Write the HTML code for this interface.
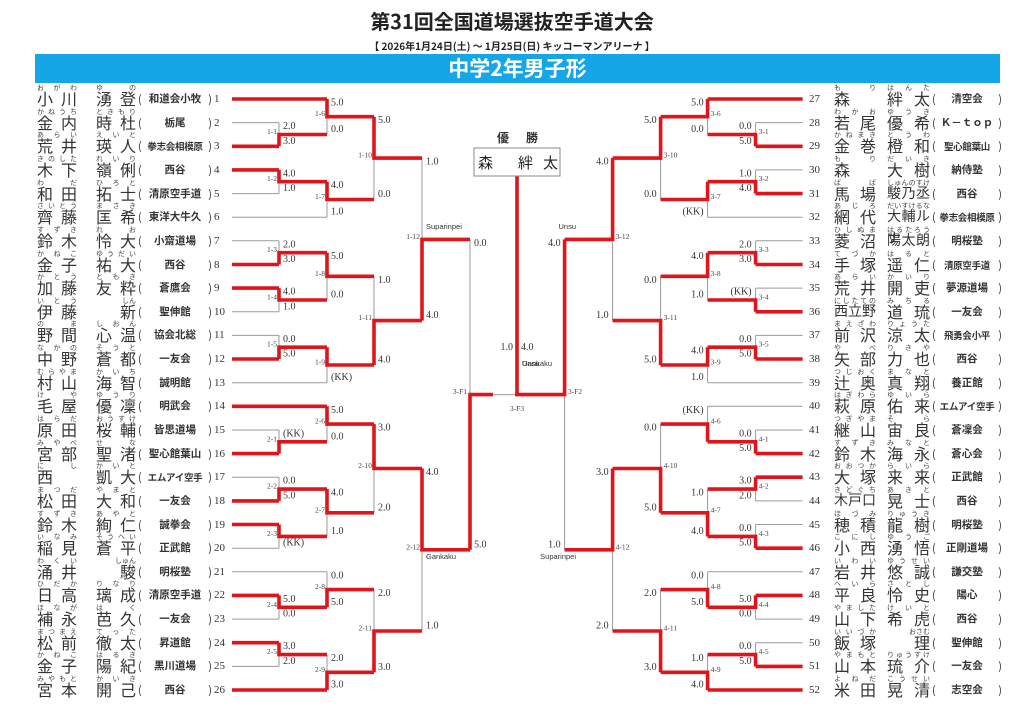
<!DOCTYPE html>
<html><head><meta charset="utf-8"><style>
*{margin:0;padding:0}
body{width:1024px;height:724px;background:#fff;position:relative;overflow:hidden;font-family:"Liberation Sans","Noto Sans CJK JP",sans-serif;color:#222}
.t1{position:absolute;left:0;width:1024px;top:8px;text-align:center;font-size:20px;font-weight:bold;line-height:26px;font-family:"Noto Sans CJK JP",sans-serif}
.t2{position:absolute;left:0;width:1024px;top:39px;text-align:center;font-size:10px;font-weight:bold;line-height:13px;font-family:"Noto Sans CJK JP",sans-serif}
.bar{position:absolute;left:35px;top:54px;width:965px;height:29px;background:#14a6e6;color:#fff;text-align:center;font-size:21px;font-weight:bold;line-height:29px;font-family:"Noto Sans CJK JP",sans-serif}
.row{position:absolute;left:0;width:1024px;height:0}
.fa,.gi{position:absolute;top:-12px;font-size:16px;line-height:22px;height:22px;text-align:justify;text-align-last:justify;color:#333;font-family:"Noto Sans CJK JP",sans-serif}
.ff,.gf{position:absolute;top:-15px;font-size:7px;line-height:8px;text-align:justify;text-align-last:justify;color:#444;font-family:"Noto Sans CJK JP",sans-serif}
.e{text-align-last:right}
.sm{font-size:14px}
.af{position:absolute;top:-8px;display:flex;justify-content:space-between;font-size:11px;line-height:16px;color:#333;font-family:"Noto Sans CJK JP",sans-serif;white-space:nowrap}
.af em{font-style:normal;flex:1;text-align:center;font-weight:bold;font-size:10.5px;white-space:nowrap}
.af em.c{font-size:9.5px;letter-spacing:-0.3px}
.no{position:absolute;top:-7px;font-size:11px;line-height:14px;font-family:"Liberation Serif",serif;color:#333}
.L .ff,.L .fa{left:37px;width:40px}
.L .gf,.L .gi{left:96px;width:40px}
.L .af{left:138px;width:74px}
.L .no{left:214px}
.R .ff,.R .fa{left:834px;width:42px}
.R .gf,.R .gi{left:887px;width:43px}
.R .af{left:932px;width:70px}
.R .no{left:809px}
svg{position:absolute;left:0;top:0}
.s{font-family:"Liberation Serif","DejaVu Serif",serif;font-size:10px;fill:#333}
.m{font-family:"Liberation Serif","DejaVu Serif",serif;font-size:7.5px;fill:#444}
.k{font-family:"Liberation Sans",sans-serif;font-size:7.5px;fill:#333}
.r .s{text-anchor:end}
</style></head><body>
<div class="t1">第31回全国道場選抜空手道大会</div>
<div class="t2">【 2026年1月24日(土) ～ 1月25日(日)  キッコーマンアリーナ 】</div>
<div class="bar">中学2年男子形</div>

<svg width="1024" height="724" viewBox="0 0 1024 724">
<g fill="none" stroke-linejoin="miter">
<path stroke="#9a9a9a" stroke-width="1" d="M232 122.6H279M232 193.6H279M232 217.2H327M232 240.8H279M232 311.8H279M232 335.4H279M232 382.7H327
M279 122.6V134.5M279 181.7V193.6M279 240.8V252.7M279 300V311.8M279 335.4V347.2M327 116.7V134.5M327 199.5V217.2M327 276.3V300M327 365V382.7M374 158.1V199.5M374 276.3V320.6M422 158.1V239.4
M232 430H279M232 477.2H279M232 548.2H279M232 571.8H327M232 619.1H279M232 666.4H279
M279 430V441.8M279 477.2V489.1M279 536.4V548.2M279 607.3V619.1M279 654.6V666.4M327 424.1V441.8M327 512.8V536.4M327 571.8V589.6M327 654.6V672.3M374 468.5V512.8M374 589.6V631M422 549.8V631M470 239.4V394.6M493 394.6H517"/>
<path stroke="#e0141b" stroke-width="3.6" d="M232 99H327M232 146.3H279M232 169.9H279M232 264.5H279M232 288.1H279M232 359H279
M279 146.3V134.5H327M279 169.9V181.7H327M279 264.5V252.7H327M279 288.1V300H327M279 359V347.2H327M327 99V116.7H374M327 181.7V199.5H374M327 252.7V276.3H374M327 347.2V365H374M374 116.7V158.1H422M374 365V320.6H422M422 320.6V239.4H470
M232 406.3H327M232 453.6H279M232 500.9H279M232 524.5H279M232 595.4H279M232 642.7H279M232 690H327
M279 453.6V441.8H327M279 500.9V489.1H327M279 524.5V536.4H327M279 595.4V607.3H327M279 642.7V654.6H327M327 406.3V424.1H374M327 489.1V512.8H374M327 607.3V589.6H374M327 690V672.3H374M374 424.1V468.5H422M374 672.3V631H422M422 468.5V549.8H470M470 549.8V394.6H493
M517 396V176"/>
<g transform="translate(1034.6,0) scale(-1,1)">
<path stroke="#9a9a9a" stroke-width="1" d="M232 122.6H279M232 169.9H279M232 217.2H327M232 240.8H279M232 288.1H279M232 335.4H279M232 382.7H327
M279 122.6V134.5M279 169.9V181.7M279 240.8V252.7M279 288.1V300M279 335.4V347.2M327 116.7V134.5M327 199.5V217.2M327 276.3V300M327 365V382.7M374 158.1V199.5M374 276.3V320.6M422 239.4V320.6
M232 406.3H327M232 430H279M232 500.9H279M232 524.5H279M232 571.8H327M232 619.1H279M232 642.7H279
M279 430V441.8M279 489.1V500.9M279 524.5V536.4M279 607.3V619.1M279 642.7V654.6M327 406.3V424.1M327 489.1V512.8M327 571.8V589.6M327 654.6V672.3M374 424.1V468.5M374 589.6V631M422 549.8V631M470 394.6V549.8"/>
<path stroke="#e0141b" stroke-width="3.6" d="M232 99H327M232 146.3H279M232 193.6H279M232 264.5H279M232 311.8H279M232 359H279
M279 146.3V134.5H327M279 193.6V181.7H327M279 264.5V252.7H327M279 311.8V300H327M279 359V347.2H327M327 99V116.7H374M327 181.7V199.5H374M327 252.7V276.3H374M327 347.2V365H374M374 116.7V158.1H422M374 365V320.6H422M422 158.1V239.4H470
M232 453.6H279M232 477.2H279M232 548.2H279M232 595.4H279M232 666.4H279M232 690H327
M279 453.6V441.8H327M279 477.2V489.1H327M279 548.2V536.4H327M279 595.4V607.3H327M279 666.4V654.6H327M327 441.8V424.1H374M327 536.4V512.8H374M327 607.3V589.6H374M327 690V672.3H374M374 512.8V468.5H422M374 672.3V631H422M422 468.5V549.8H470M470 239.4V394.6H519.4"/>
</g>
</g>
<rect x="474" y="148" width="86" height="28" fill="#fff" stroke="#888" stroke-width="1"/>
<text x="478" y="168" font-size="15" fill="#222" font-family="Noto Sans CJK JP,sans-serif">森</text>
<text x="518" y="168" font-size="15" fill="#222" font-family="Noto Sans CJK JP,sans-serif">絆</text>
<text x="543" y="168" font-size="15" fill="#222" font-family="Noto Sans CJK JP,sans-serif">太</text>
<text x="497" y="142" font-size="12" font-weight="bold" fill="#333" font-family="Noto Sans CJK JP,sans-serif">優</text>
<text x="526" y="142" font-size="12" font-weight="bold" fill="#333" font-family="Noto Sans CJK JP,sans-serif">勝</text>

<g class="l">
<text class="s" x="283" y="129.1">2.0</text><text class="s" x="283" y="143.8">3.0</text><text class="m" x="277" y="134" text-anchor="end">1-1</text>
<text class="s" x="283" y="176.4">4.0</text><text class="s" x="283" y="191.1">1.0</text><text class="m" x="277" y="181.2" text-anchor="end">1-2</text>
<text class="s" x="283" y="247.3">2.0</text><text class="s" x="283" y="262">3.0</text><text class="m" x="277" y="252.2" text-anchor="end">1-3</text>
<text class="s" x="283" y="294.6">4.0</text><text class="s" x="283" y="309.3">1.0</text><text class="m" x="277" y="299.5" text-anchor="end">1-4</text>
<text class="s" x="283" y="341.9">0.0</text><text class="s" x="283" y="356.5">5.0</text><text class="m" x="277" y="346.7" text-anchor="end">1-5</text>
<text class="s" x="331" y="105.5">5.0</text><text class="s" x="331" y="132">0.0</text><text class="m" x="325" y="116.2" text-anchor="end">1-6</text>
<text class="s" x="331" y="188.2">4.0</text><text class="s" x="331" y="214.7">1.0</text><text class="m" x="325" y="199" text-anchor="end">1-7</text>
<text class="s" x="331" y="259.2">5.0</text><text class="s" x="331" y="297.5">0.0</text><text class="m" x="325" y="275.8" text-anchor="end">1-8</text>
<text class="s" x="331" y="380.2">(KK)</text><text class="m" x="325" y="364.5" text-anchor="end">1-9</text>
<text class="s" x="378" y="123.2">5.0</text><text class="s" x="378" y="197">0.0</text><text class="m" x="372" y="157.6" text-anchor="end">1-10</text>
<text class="s" x="378" y="282.8">1.0</text><text class="s" x="378" y="362.5">4.0</text><text class="m" x="372" y="320.1" text-anchor="end">1-11</text>
<text class="s" x="426" y="164.6">1.0</text><text class="s" x="426" y="318.1">4.0</text><text class="m" x="420" y="238.9" text-anchor="end">1-12</text>
<text class="s" x="283" y="436.5">(KK)</text><text class="m" x="277" y="441.3" text-anchor="end">2-1</text>
<text class="s" x="283" y="483.7">0.0</text><text class="s" x="283" y="498.4">5.0</text><text class="m" x="277" y="488.6" text-anchor="end">2-2</text>
<text class="s" x="283" y="545.7">(KK)</text><text class="m" x="277" y="535.9" text-anchor="end">2-3</text>
<text class="s" x="283" y="601.9">5.0</text><text class="s" x="283" y="616.6">0.0</text><text class="m" x="277" y="606.8" text-anchor="end">2-4</text>
<text class="s" x="283" y="649.2">3.0</text><text class="s" x="283" y="663.9">2.0</text><text class="m" x="277" y="654.1" text-anchor="end">2-5</text>
<text class="s" x="331" y="412.8">5.0</text><text class="s" x="331" y="439.3">0.0</text><text class="m" x="325" y="423.6" text-anchor="end">2-6</text>
<text class="s" x="331" y="495.6">4.0</text><text class="s" x="331" y="533.9">1.0</text><text class="m" x="325" y="512.3" text-anchor="end">2-7</text>
<text class="s" x="331" y="578.3">0.0</text><text class="s" x="331" y="604.8">5.0</text><text class="m" x="325" y="589.1" text-anchor="end">2-8</text>
<text class="s" x="331" y="661.1">2.0</text><text class="s" x="331" y="687.5">3.0</text><text class="m" x="325" y="671.8" text-anchor="end">2-9</text>
<text class="s" x="378" y="430.6">3.0</text><text class="s" x="378" y="510.3">2.0</text><text class="m" x="372" y="468" text-anchor="end">2-10</text>
<text class="s" x="378" y="596.1">2.0</text><text class="s" x="378" y="669.8">3.0</text><text class="m" x="372" y="630.5" text-anchor="end">2-11</text>
<text class="s" x="426" y="475">4.0</text><text class="s" x="426" y="628.5">1.0</text><text class="m" x="420" y="549.3" text-anchor="end">2-12</text>
<text class="s" x="474" y="245.9">0.0</text><text class="s" x="474" y="547.3">5.0</text><text class="m" x="467" y="394.1" text-anchor="end">3-F1</text>
<text class="k" x="426" y="229">Suparinpei</text>
<text class="k" x="426" y="559">Gankaku</text>
</g>

<g class="r">
<text class="s" x="751.6" y="129.1">0.0</text><text class="s" x="751.6" y="143.8">5.0</text><text class="m" x="758.6" y="134">3-1</text>
<text class="s" x="751.6" y="176.4">1.0</text><text class="s" x="751.6" y="191.1">4.0</text><text class="m" x="758.6" y="181.2">3-2</text>
<text class="s" x="751.6" y="247.3">2.0</text><text class="s" x="751.6" y="262">3.0</text><text class="m" x="758.6" y="252.2">3-3</text>
<text class="s" x="751.6" y="294.6">(KK)</text><text class="m" x="758.6" y="299.5">3-4</text>
<text class="s" x="751.6" y="341.9">0.0</text><text class="s" x="751.6" y="356.5">5.0</text><text class="m" x="758.6" y="346.7">3-5</text>
<text class="s" x="703.6" y="105.5">5.0</text><text class="s" x="703.6" y="132">0.0</text><text class="m" x="710.6" y="116.2">3-6</text>
<text class="s" x="703.6" y="214.7">(KK)</text><text class="m" x="710.6" y="199">3-7</text>
<text class="s" x="703.6" y="259.2">4.0</text><text class="s" x="703.6" y="297.5">1.0</text><text class="m" x="710.6" y="275.8">3-8</text>
<text class="s" x="703.6" y="353.7">4.0</text><text class="s" x="703.6" y="380.2">1.0</text><text class="m" x="710.6" y="364.5">3-9</text>
<text class="s" x="656.6" y="123.2">5.0</text><text class="s" x="656.6" y="197">0.0</text><text class="m" x="663.6" y="157.6">3-10</text>
<text class="s" x="656.6" y="282.8">0.0</text><text class="s" x="656.6" y="362.5">5.0</text><text class="m" x="663.6" y="320.1">3-11</text>
<text class="s" x="608.6" y="164.6">4.0</text><text class="s" x="608.6" y="318.1">1.0</text><text class="m" x="615.6" y="238.9">3-12</text>
<text class="s" x="751.6" y="436.5">0.0</text><text class="s" x="751.6" y="451.1">5.0</text><text class="m" x="758.6" y="441.3">4-1</text>
<text class="s" x="751.6" y="483.7">3.0</text><text class="s" x="751.6" y="498.4">2.0</text><text class="m" x="758.6" y="488.6">4-2</text>
<text class="s" x="751.6" y="531">0.0</text><text class="s" x="751.6" y="545.7">5.0</text><text class="m" x="758.6" y="535.9">4-3</text>
<text class="s" x="751.6" y="601.9">5.0</text><text class="s" x="751.6" y="616.6">0.0</text><text class="m" x="758.6" y="606.8">4-4</text>
<text class="s" x="751.6" y="649.2">0.0</text><text class="s" x="751.6" y="663.9">5.0</text><text class="m" x="758.6" y="654.1">4-5</text>
<text class="s" x="703.6" y="412.8">(KK)</text><text class="m" x="710.6" y="423.6">4-6</text>
<text class="s" x="703.6" y="495.6">1.0</text><text class="s" x="703.6" y="533.9">4.0</text><text class="m" x="710.6" y="512.3">4-7</text>
<text class="s" x="703.6" y="578.3">0.0</text><text class="s" x="703.6" y="604.8">5.0</text><text class="m" x="710.6" y="589.1">4-8</text>
<text class="s" x="703.6" y="661.1">1.0</text><text class="s" x="703.6" y="687.5">4.0</text><text class="m" x="710.6" y="671.8">4-9</text>
<text class="s" x="656.6" y="430.6">0.0</text><text class="s" x="656.6" y="510.3">5.0</text><text class="m" x="663.6" y="468">4-10</text>
<text class="s" x="656.6" y="596.1">2.0</text><text class="s" x="656.6" y="669.8">3.0</text><text class="m" x="663.6" y="630.5">4-11</text>
<text class="s" x="608.6" y="475">3.0</text><text class="s" x="608.6" y="628.5">2.0</text><text class="m" x="615.6" y="549.3">4-12</text>
<text class="s" x="560.6" y="245.9">4.0</text><text class="s" x="560.6" y="547.3">1.0</text><text class="m" x="568" y="394.1">3-F2</text>
<text class="k" x="576" y="229" text-anchor="end">Unsu</text>
<text class="k" x="576" y="559" text-anchor="end">Suparinpei</text>
</g>
<text class="s" x="513" y="350" text-anchor="end">1.0</text>
<text class="s" x="521" y="350">4.0</text>
<text class="k" x="522" y="366">Gankaku</text>
<text class="k" x="522" y="366">Unsu</text>
<text class="m" x="517" y="411" text-anchor="middle">3-F3</text>
</svg>

<!-- LEFT ROWS -->
<div class="row L" style="top:99px"><div class="ff">おがわ</div><div class="gf">ゆの</div><div class="fa">小川</div><div class="gi">湧登</div><div class="af">(<em>和道会小牧</em>)</div><div class="no">1</div></div>
<div class="row L" style="top:122.6px"><div class="ff">かねうち</div><div class="gf">ときもり</div><div class="fa">金内</div><div class="gi">時杜</div><div class="af">(<em>栃尾</em>)</div><div class="no">2</div></div>
<div class="row L" style="top:146.3px"><div class="ff">あらい</div><div class="gf">えいと</div><div class="fa">荒井</div><div class="gi">瑛人</div><div class="af">(<em class="c">拳志会相模原</em>)</div><div class="no">3</div></div>
<div class="row L" style="top:169.9px"><div class="ff">きのした</div><div class="gf">れいり</div><div class="fa">木下</div><div class="gi">嶺俐</div><div class="af">(<em>西谷</em>)</div><div class="no">4</div></div>
<div class="row L" style="top:193.6px"><div class="ff">わだ</div><div class="gf">ひろと</div><div class="fa">和田</div><div class="gi">拓士</div><div class="af">(<em>清原空手道</em>)</div><div class="no">5</div></div>
<div class="row L" style="top:217.2px"><div class="ff">さいとう</div><div class="gf">まさき</div><div class="fa">齊藤</div><div class="gi">匡希</div><div class="af">(<em>東洋大牛久</em>)</div><div class="no">6</div></div>
<div class="row L" style="top:240.8px"><div class="ff">すずき</div><div class="gf">れお</div><div class="fa">鈴木</div><div class="gi">怜大</div><div class="af">(<em>小齋道場</em>)</div><div class="no">7</div></div>
<div class="row L" style="top:264.5px"><div class="ff">かねこ</div><div class="gf">ゆうだい</div><div class="fa">金子</div><div class="gi">祐大</div><div class="af">(<em>西谷</em>)</div><div class="no">8</div></div>
<div class="row L" style="top:288.1px"><div class="ff">かとう</div><div class="gf">ともき</div><div class="fa">加藤</div><div class="gi">友粋</div><div class="af">(<em>蒼鷹会</em>)</div><div class="no">9</div></div>
<div class="row L" style="top:311.8px"><div class="ff">いとう</div><div class="gf e">しん</div><div class="fa">伊藤</div><div class="gi e">新</div><div class="af">(<em>聖伸館</em>)</div><div class="no">10</div></div>
<div class="row L" style="top:335.4px"><div class="ff">のま</div><div class="gf">しおん</div><div class="fa">野間</div><div class="gi">心温</div><div class="af">(<em>協会北総</em>)</div><div class="no">11</div></div>
<div class="row L" style="top:359px"><div class="ff">なかの</div><div class="gf">そうと</div><div class="fa">中野</div><div class="gi">蒼都</div><div class="af">(<em>一友会</em>)</div><div class="no">12</div></div>
<div class="row L" style="top:382.7px"><div class="ff">むらやま</div><div class="gf">かいち</div><div class="fa">村山</div><div class="gi">海智</div><div class="af">(<em>誠明館</em>)</div><div class="no">13</div></div>
<div class="row L" style="top:406.3px"><div class="ff">けや</div><div class="gf">ゆうり</div><div class="fa">毛屋</div><div class="gi">優凜</div><div class="af">(<em>明武会</em>)</div><div class="no">14</div></div>
<div class="row L" style="top:430px"><div class="ff">はらだ</div><div class="gf">おうすけ</div><div class="fa">原田</div><div class="gi">桜輔</div><div class="af">(<em>皆思道場</em>)</div><div class="no">15</div></div>
<div class="row L" style="top:453.6px"><div class="ff">みやべ</div><div class="gf">せな</div><div class="fa">宮部</div><div class="gi">聖渚</div><div class="af">(<em>聖心館葉山</em>)</div><div class="no">16</div></div>
<div class="row L" style="top:477.2px"><div class="ff">にし</div><div class="gf">かいと</div><div class="fa">西</div><div class="gi">凱大</div><div class="af">(<em class="c">エムアイ空手</em>)</div><div class="no">17</div></div>
<div class="row L" style="top:500.9px"><div class="ff">まつだ</div><div class="gf">やまと</div><div class="fa">松田</div><div class="gi">大和</div><div class="af">(<em>一友会</em>)</div><div class="no">18</div></div>
<div class="row L" style="top:524.5px"><div class="ff">すずき</div><div class="gf">あやと</div><div class="fa">鈴木</div><div class="gi">絢仁</div><div class="af">(<em>誠拳会</em>)</div><div class="no">19</div></div>
<div class="row L" style="top:548.2px"><div class="ff">いなみ</div><div class="gf">そうへい</div><div class="fa">稲見</div><div class="gi">蒼平</div><div class="af">(<em>正武館</em>)</div><div class="no">20</div></div>
<div class="row L" style="top:571.8px"><div class="ff">わくい</div><div class="gf e">しゅん</div><div class="fa">涌井</div><div class="gi e">駿</div><div class="af">(<em>明桜塾</em>)</div><div class="no">21</div></div>
<div class="row L" style="top:595.4px"><div class="ff">ひだか</div><div class="gf">りなり</div><div class="fa">日高</div><div class="gi">璃成</div><div class="af">(<em>清原空手道</em>)</div><div class="no">22</div></div>
<div class="row L" style="top:619.1px"><div class="ff">ほなが</div><div class="gf">はく</div><div class="fa">補永</div><div class="gi">芭久</div><div class="af">(<em>一友会</em>)</div><div class="no">23</div></div>
<div class="row L" style="top:642.7px"><div class="ff">まつまえ</div><div class="gf">てった</div><div class="fa">松前</div><div class="gi">徹太</div><div class="af">(<em>昇道館</em>)</div><div class="no">24</div></div>
<div class="row L" style="top:666.4px"><div class="ff">かねこ</div><div class="gf">はるき</div><div class="fa">金子</div><div class="gi">陽紀</div><div class="af">(<em>黒川道場</em>)</div><div class="no">25</div></div>
<div class="row L" style="top:690px"><div class="ff">みやもと</div><div class="gf">かいき</div><div class="fa">宮本</div><div class="gi">開己</div><div class="af">(<em>西谷</em>)</div><div class="no">26</div></div>

<!-- RIGHT ROWS -->
<div class="row R" style="top:99px"><div class="no">27</div><div class="ff">もり</div><div class="gf">はんた</div><div class="fa">森</div><div class="gi">絆太</div><div class="af">(<em>清空会</em>)</div></div>
<div class="row R" style="top:122.6px"><div class="no">28</div><div class="ff">わかお</div><div class="gf">ゆうき</div><div class="fa">若尾</div><div class="gi">優希</div><div class="af">(<em>Ｋ－ｔｏｐ</em>)</div></div>
<div class="row R" style="top:146.3px"><div class="no">29</div><div class="ff">かねまき</div><div class="gf">とうわ</div><div class="fa">金巻</div><div class="gi">橙和</div><div class="af">(<em class="c">聖心館葉山</em>)</div></div>
<div class="row R" style="top:169.9px"><div class="no">30</div><div class="ff">もり</div><div class="gf">だいき</div><div class="fa">森</div><div class="gi">大樹</div><div class="af">(<em>納侍塾</em>)</div></div>
<div class="row R" style="top:193.6px"><div class="no">31</div><div class="ff">ばば</div><div class="gf">しゅんのすけ</div><div class="fa">馬場</div><div class="gi sm">駿乃丞</div><div class="af">(<em>西谷</em>)</div></div>
<div class="row R" style="top:217.2px"><div class="no">32</div><div class="ff">あじろ</div><div class="gf">だいすけるな</div><div class="fa">網代</div><div class="gi sm">大輔ルナ</div><div class="af">(<em class="c">拳志会相模原</em>)</div></div>
<div class="row R" style="top:240.8px"><div class="no">33</div><div class="ff">ひしぬま</div><div class="gf">はるたろう</div><div class="fa">菱沼</div><div class="gi sm">陽太朗</div><div class="af">(<em>明桜塾</em>)</div></div>
<div class="row R" style="top:264.5px"><div class="no">34</div><div class="ff">てづか</div><div class="gf">はると</div><div class="fa">手塚</div><div class="gi">遥仁</div><div class="af">(<em class="c">清原空手道</em>)</div></div>
<div class="row R" style="top:288.1px"><div class="no">35</div><div class="ff">あらい</div><div class="gf">かいり</div><div class="fa">荒井</div><div class="gi">開吏</div><div class="af">(<em>夢源道場</em>)</div></div>
<div class="row R" style="top:311.8px"><div class="no">36</div><div class="ff">にしたての</div><div class="gf">みちる</div><div class="fa sm">西立野</div><div class="gi">道琉</div><div class="af">(<em>一友会</em>)</div></div>
<div class="row R" style="top:335.4px"><div class="no">37</div><div class="ff">まえざわ</div><div class="gf">りょうた</div><div class="fa">前沢</div><div class="gi">涼太</div><div class="af">(<em class="c">飛勇会小平</em>)</div></div>
<div class="row R" style="top:359px"><div class="no">38</div><div class="ff">やべ</div><div class="gf">りきや</div><div class="fa">矢部</div><div class="gi">力也</div><div class="af">(<em>西谷</em>)</div></div>
<div class="row R" style="top:382.7px"><div class="no">39</div><div class="ff">つじおく</div><div class="gf">まなと</div><div class="fa">辻奥</div><div class="gi">真翔</div><div class="af">(<em>養正館</em>)</div></div>
<div class="row R" style="top:406.3px"><div class="no">40</div><div class="ff">はぎわら</div><div class="gf">ゆいら</div><div class="fa">萩原</div><div class="gi">佑来</div><div class="af">(<em class="c">エムアイ空手</em>)</div></div>
<div class="row R" style="top:430px"><div class="no">41</div><div class="ff">つぎやま</div><div class="gf">そら</div><div class="fa">継山</div><div class="gi">宙良</div><div class="af">(<em>蒼凜会</em>)</div></div>
<div class="row R" style="top:453.6px"><div class="no">42</div><div class="ff">すずき</div><div class="gf">みなと</div><div class="fa">鈴木</div><div class="gi">海永</div><div class="af">(<em>蒼心会</em>)</div></div>
<div class="row R" style="top:477.2px"><div class="no">43</div><div class="ff">おおつか</div><div class="gf">らいら</div><div class="fa">大塚</div><div class="gi">来来</div><div class="af">(<em>正武館</em>)</div></div>
<div class="row R" style="top:500.9px"><div class="no">44</div><div class="ff">きどぐち</div><div class="gf">あきと</div><div class="fa sm">木戸口</div><div class="gi">晃士</div><div class="af">(<em>西谷</em>)</div></div>
<div class="row R" style="top:524.5px"><div class="no">45</div><div class="ff">ほづみ</div><div class="gf">りゅうき</div><div class="fa">穂積</div><div class="gi">龍樹</div><div class="af">(<em>明桜塾</em>)</div></div>
<div class="row R" style="top:548.2px"><div class="no">46</div><div class="ff">こにし</div><div class="gf">ゆうご</div><div class="fa">小西</div><div class="gi">湧悟</div><div class="af">(<em>正剛道場</em>)</div></div>
<div class="row R" style="top:571.8px"><div class="no">47</div><div class="ff">いわい</div><div class="gf">ゆうせい</div><div class="fa">岩井</div><div class="gi">悠誠</div><div class="af">(<em>謙交塾</em>)</div></div>
<div class="row R" style="top:595.4px"><div class="no">48</div><div class="ff">へいら</div><div class="gf">さとし</div><div class="fa">平良</div><div class="gi">怜史</div><div class="af">(<em>陽心</em>)</div></div>
<div class="row R" style="top:619.1px"><div class="no">49</div><div class="ff">やました</div><div class="gf">けいと</div><div class="fa">山下</div><div class="gi">希虎</div><div class="af">(<em>西谷</em>)</div></div>
<div class="row R" style="top:642.7px"><div class="no">50</div><div class="ff">いいづか</div><div class="gf e">おさむ</div><div class="fa">飯塚</div><div class="gi e">理</div><div class="af">(<em>聖伸館</em>)</div></div>
<div class="row R" style="top:666.4px"><div class="no">51</div><div class="ff">やまもと</div><div class="gf">りゅうすけ</div><div class="fa">山本</div><div class="gi">琉介</div><div class="af">(<em>一友会</em>)</div></div>
<div class="row R" style="top:690px"><div class="no">52</div><div class="ff">よねだ</div><div class="gf">こうせい</div><div class="fa">米田</div><div class="gi">晃清</div><div class="af">(<em>志空会</em>)</div></div>
</body></html>
